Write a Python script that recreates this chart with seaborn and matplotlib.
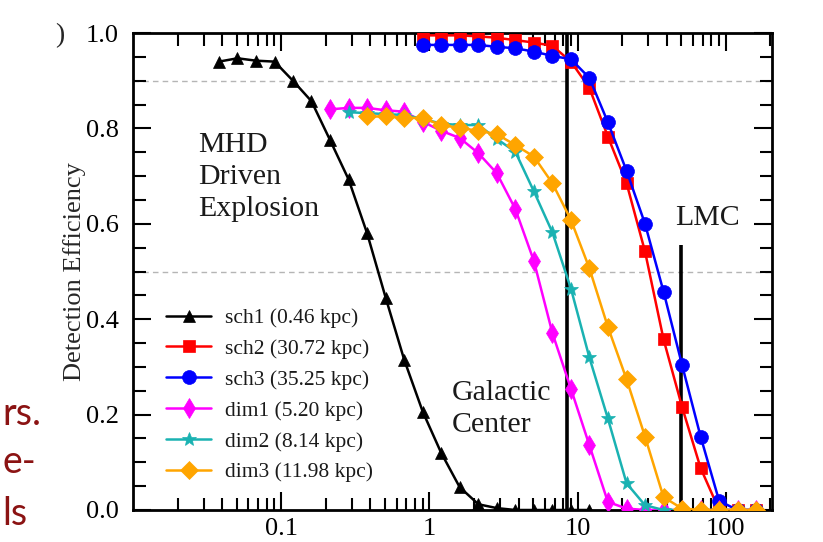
import numpy as np
import pandas as pd
import matplotlib
matplotlib.use("Agg")
import matplotlib.pyplot as plt
import seaborn as sns
from matplotlib.ticker import FixedLocator, FixedFormatter, LogLocator, MultipleLocator, NullFormatter

# ---------------- data ----------------
distance_kpc = [0.0380, 0.0507, 0.0676, 0.0902, 0.120, 0.160, 0.214, 0.285, 0.380, 0.507,
                0.676, 0.902, 1.20, 1.60, 2.14, 2.85, 3.80, 5.07, 6.76, 9.02,
                12.0, 16.0, 21.4, 28.5, 38.0, 50.7, 67.6, 90.2, 120.0, 160.0]

sch1_eff = [0.94, 0.947, 0.942, 0.94, 0.90, 0.857, 0.775, 0.693, 0.58, 0.445,
            0.315, 0.206, 0.12, 0.048, 0.012, 0.004, 0.0, 0.0, 0.0, 0.0, 0.0]
sch2_eff = [0.995, 0.995, 0.995, 0.993, 0.99, 0.985, 0.98, 0.973, 0.94, 0.885,
            0.783, 0.685, 0.542, 0.358, 0.216, 0.088, 0.0, 0.0, 0.0]
sch3_eff = [0.975, 0.975, 0.975, 0.975, 0.971, 0.968, 0.961, 0.952, 0.945, 0.906,
            0.813, 0.711, 0.60, 0.458, 0.304, 0.154, 0.019, 0.0, 0.0]
dim1_eff = [0.84, 0.843, 0.843, 0.838, 0.835, 0.814, 0.795, 0.78, 0.748, 0.706,
            0.631, 0.522, 0.371, 0.254, 0.136, 0.017, 0.003, 0.0, 0.0, 0.0,
            0.0, 0.0, 0.0, 0.0]
dim2_eff = [0.834, 0.832, 0.83, 0.828, 0.82, 0.81, 0.807, 0.807, 0.778, 0.751,
            0.668, 0.582, 0.464, 0.32, 0.192, 0.056, 0.01, 0.0, 0.0, 0.0,
            0.0, 0.0, 0.0]
dim3_eff = [0.825, 0.825, 0.822, 0.822, 0.807, 0.801, 0.795, 0.788, 0.765, 0.741,
            0.685, 0.608, 0.507, 0.384, 0.274, 0.154, 0.027, 0.003, 0.0, 0.0,
            0.0, 0.0]

series_labels = ["sch1 (0.46 kpc)", "sch2 (30.72 kpc)", "sch3 (35.25 kpc)",
                 "dim1 (5.20 kpc)", "dim2 (8.14 kpc)", "dim3 (11.98 kpc)"]
series_values = [sch1_eff, sch2_eff, sch3_eff, dim1_eff, dim2_eff, dim3_eff]
series_start = [0, 11, 11, 6, 7, 8]   # index into distance_kpc of first point

x_ticks = [0.1, 1, 10, 100]
x_tick_labels = ["0.1", "1", "10", "100"]
y_ticks = [0.0, 0.2, 0.4, 0.6, 0.8, 1.0]
y_tick_labels = ["0.0", "0.2", "0.4", "0.6", "0.8", "1.0"]
threshold_lines = [0.9, 0.5]
galactic_center_kpc = 8.5
lmc_kpc = 50.0
lmc_line_top = 0.555

# ---------------- styles ----------------
colors = ["#000000", "#ff0000", "#0000ff", "#ff00ff", "#1ab2b2", "#ffa500"]
markers = ["^", "s", "o", "d", "*", "D"]
msizes = [8, 9, 10, 10, 10, 9.5]

sns.set_style("ticks")
plt.rcParams["font.family"] = ["Liberation Serif", "DejaVu Serif"]

fig = plt.figure(figsize=(8.23, 5.42), dpi=100)
ax = fig.add_axes([133 / 823, 32 / 542, (772 - 133) / 823, (510 - 33) / 542])

for y_th in threshold_lines:
    ax.axhline(y_th, color="#b5b5b5", lw=1.0, ls=(0, (4, 3)), zorder=0.5)

ax.vlines([galactic_center_kpc], 0, 1, color="black", lw=2.6, zorder=1.5)
ax.vlines([lmc_kpc], 0, lmc_line_top, color="black", lw=2.6, zorder=1.5)

for lab, vals, st, c, m, ms in zip(series_labels, series_values, series_start,
                                   colors, markers, msizes):
    xs = distance_kpc[st:st + len(vals)]
    df = pd.DataFrame({"distance": xs, "eff": vals})
    sns.lineplot(data=df, x="distance", y="eff", ax=ax, color=c, marker=m,
                 markersize=ms, markeredgecolor=c, markeredgewidth=0.5,
                 linewidth=1.8, label=lab, estimator=None, sort=False, zorder=3)

ax.set_xscale("log")
ax.set_xlim(0.01, 205)
ax.set_ylim(0, 1)

ax.xaxis.set_major_locator(FixedLocator(x_ticks))
ax.xaxis.set_major_formatter(FixedFormatter(x_tick_labels))
ax.xaxis.set_minor_locator(LogLocator(base=10, subs=np.arange(2, 10), numticks=20))
ax.xaxis.set_minor_formatter(NullFormatter())
ax.yaxis.set_major_locator(FixedLocator(y_ticks))
ax.yaxis.set_major_formatter(FixedFormatter(y_tick_labels))
ax.yaxis.set_minor_locator(MultipleLocator(0.05))

ax.tick_params(which="both", direction="in", top=True, right=True, width=1.5,
               labelsize=19, colors="black")
ax.tick_params(which="major", length=13)
ax.tick_params(which="minor", length=9)
ax.tick_params(axis="x", which="major", pad=6)
ax.tick_params(axis="y", which="major", pad=10)
for sp in ax.spines.values():
    sp.set_linewidth(2.0)
    sp.set_visible(True)
    sp.set_color("black")

ax.set_xlabel("")
ax.set_ylabel("Detection Efficiency", fontsize=19, labelpad=0)

ax.text(0.0276, 0.792, "MHD\nDriven\nExplosion", fontsize=21.5, va="top", ha="left",
        linespacing=1.3, color="#1a1a1a")
ax.text(1.41, 0.272, "Galactic\nCenter", fontsize=21.5, va="top", ha="left",
        linespacing=1.3, color="#1a1a1a")
ax.text(45.5, 0.597, "LMC", fontsize=21.5, va="baseline", ha="left", color="#1a1a1a")

leg = ax.legend(loc="lower left", bbox_to_anchor=(0.052, 0.058), frameon=False,
                fontsize=15.5, handlelength=2.1, handletextpad=0.65,
                labelspacing=0.5, borderpad=0, borderaxespad=0)
for t in leg.get_texts():
    t.set_color("#1a1a1a")

# fragments of the surrounding slide
fig.text(55 / 823, 1 - 36 / 542, ")", fontsize=20, va="center", ha="left")
for txt, base in [("rs.", 425), ("e-", 473), ("ls", 525)]:
    fig.text(2 / 823, 1 - base / 542, txt, fontsize=27, ha="left", va="baseline",
             color="#8b1313", family=["Lato", "DejaVu Sans"])

fig.savefig("out.png", dpi=100)
